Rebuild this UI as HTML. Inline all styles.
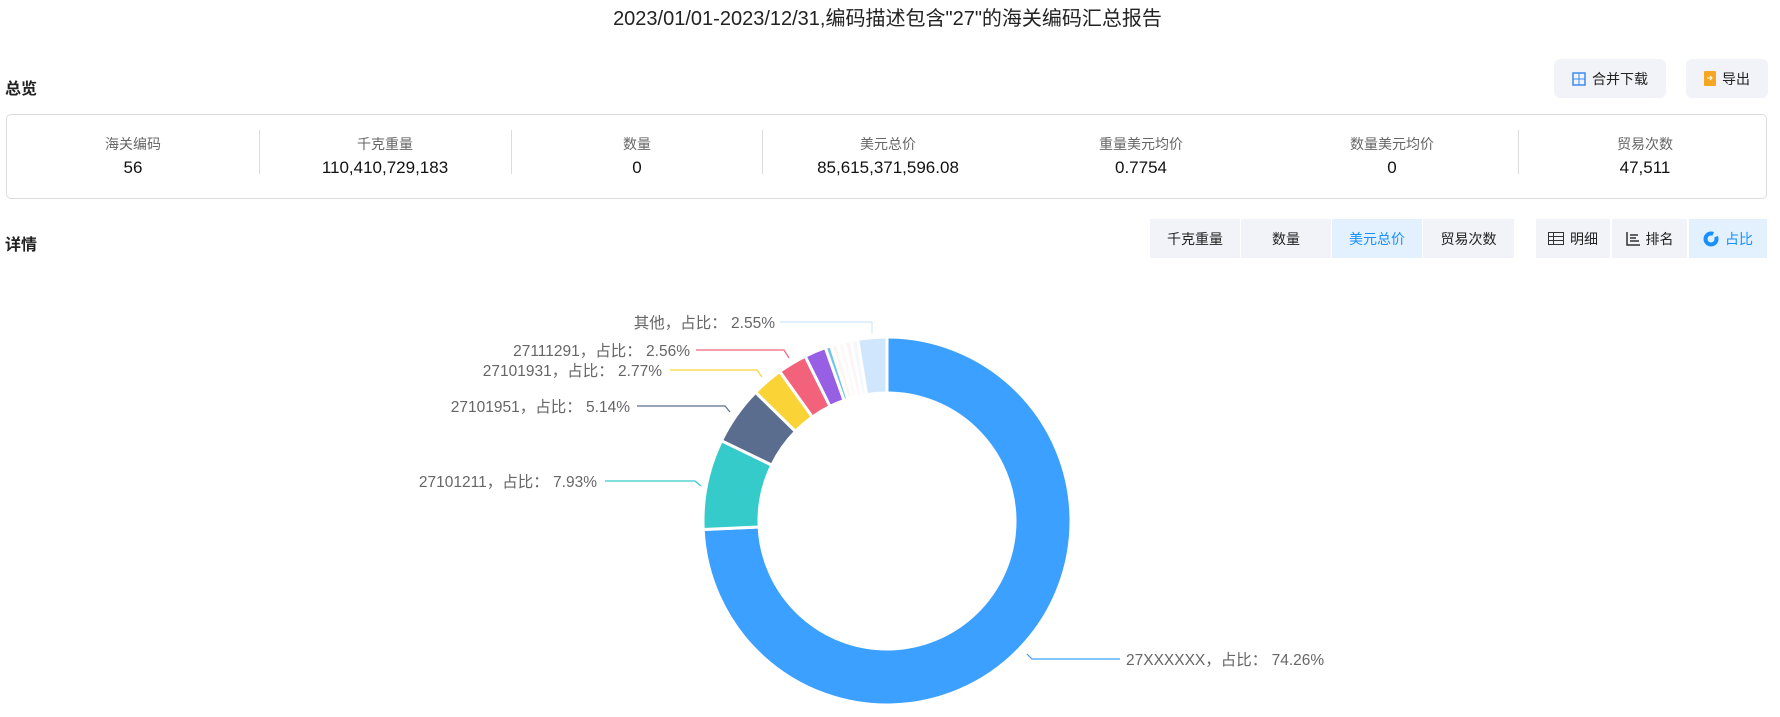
<!DOCTYPE html>
<html><head><meta charset="utf-8"><style>
body{margin:0;width:1780px;height:717px;background:#fff;font-family:"Liberation Sans","Noto Sans CJK SC",sans-serif;position:relative;overflow:hidden}
.a{position:absolute;white-space:nowrap}
.title{left:0;width:1775px;text-align:center;top:2px;font-size:20px;color:#222}
.h{font-size:16px;font-weight:bold;color:#222}
.btn{position:absolute;background:#f2f3f8;border-radius:6px;font-size:14px;color:#222;display:flex;align-items:center;justify-content:center;gap:6px}
.card{position:absolute;left:6px;top:114px;width:1759px;height:83px;border:1px solid #dcdcdc;border-radius:5px}
.col{position:absolute;top:0;width:250px;margin-left:-125px;text-align:center}
.col .l{position:absolute;top:19px;width:100%;font-size:14px;color:#666}
.col .v{position:absolute;top:43px;width:100%;font-size:17px;color:#111}
.sep{position:absolute;top:15px;width:1px;height:44px;background:#ddd}
.tab{position:absolute;top:219px;height:39px;background:#f2f3f8;font-size:14px;color:#222;display:flex;align-items:center;justify-content:center;gap:6px}
.lb{font-size:15.5px;color:#666}
</style></head><body>
<div class="a title">2023/01/01-2023/12/31,编码描述包含"27"的海关编码汇总报告</div>
<div class="a h" style="left:5px;top:75px">总览</div>
<div class="btn" style="left:1554px;top:59px;width:112px;height:39px"><svg width="14" height="14"><rect x="1" y="1" width="12" height="12" fill="none" stroke="#3b8cf0" stroke-width="1.5"/><line x1="7" y1="1" x2="7" y2="13" stroke="#3b8cf0"/><line x1="1" y1="7" x2="13" y2="7" stroke="#3b8cf0"/></svg>合并下载</div>
<div class="btn" style="left:1686px;top:59px;width:82px;height:39px"><svg width="12" height="15"><rect x="0" y="0" width="12" height="15" rx="1" fill="#f5a623"/><path d="M3 7h5M6 5l2 2-2 2" stroke="#fff" fill="none"/></svg>导出</div>
<div class="card">
<div class="col" style="left:126px"><div class="l">海关编码</div><div class="v">56</div></div>
<div class="col" style="left:378px"><div class="l">千克重量</div><div class="v">110,410,729,183</div></div>
<div class="col" style="left:630px"><div class="l">数量</div><div class="v">0</div></div>
<div class="col" style="left:881px"><div class="l">美元总价</div><div class="v">85,615,371,596.08</div></div>
<div class="col" style="left:1134px"><div class="l">重量美元均价</div><div class="v">0.7754</div></div>
<div class="col" style="left:1385px"><div class="l">数量美元均价</div><div class="v">0</div></div>
<div class="col" style="left:1638px"><div class="l">贸易次数</div><div class="v">47,511</div></div>
<div class="sep" style="left:252px"></div><div class="sep" style="left:504px"></div><div class="sep" style="left:755px"></div><div class="sep" style="left:1511px"></div>
</div>
<div class="a h" style="left:5px;top:231px">详情</div>
<div class="tab" style="left:1150px;width:90px">千克重量</div>
<div class="tab" style="left:1241px;width:90px">数量</div>
<div class="tab" style="left:1332px;width:90px;background:#e3f0fd;color:#1890ff">美元总价</div>
<div class="tab" style="left:1423px;width:91px">贸易次数</div>
<div class="tab" style="left:1536px;width:74px"><svg width="16" height="13"><rect x="0.5" y="0.5" width="15" height="12" fill="none" stroke="#333"/><path d="M0 4.5h16M0 8.5h16M5.5 0v13" stroke="#333"/></svg>明细</div>
<div class="tab" style="left:1612px;width:75px"><svg width="14" height="14"><path d="M1 0v13h13M4 3h8M4 6h6M4 9h9" stroke="#333" fill="none" stroke-width="1.5"/></svg>排名</div>
<div class="tab" style="left:1689px;width:78px;background:#e3f0fd;color:#1890ff"><svg width="16" height="16"><circle cx="8" cy="8" r="5.5" fill="none" stroke="#1890ff" stroke-width="4" stroke-dasharray="28 4"/></svg>占比</div>
<svg id="pie" class="a" style="left:0;top:0" width="1780" height="717"></svg>
<div class="a lb" style="right:1005px;top:311px">其他，占比： 2.55%</div>
<div class="a lb" style="right:1090px;top:339px">27111291，占比： 2.56%</div>
<div class="a lb" style="right:1118px;top:359px">27101931，占比： 2.77%</div>
<div class="a lb" style="right:1150px;top:395px">27101951，占比： 5.14%</div>
<div class="a lb" style="right:1183px;top:470px">27101211，占比： 7.93%</div>
<div class="a lb" style="left:1126px;top:648px">27XXXXXX，占比： 74.26%</div>
<script>
var cx=887,cy=521,R=184,r=128;
var d=[[74.26,'#3ba0ff'],[7.93,'#36cbcb'],[5.14,'#5b6d8f'],[2.77,'#fad337'],[2.56,'#f2637b'],[1.9,'#975fe4'],[0.5,'#6fc5e8'],[0.6,'#fdf6f0'],[0.6,'#fafafa'],[0.6,'#fdf4f5'],[0.59,'#f4f8fc'],[2.55,'#d0e6fc']];
var s='',a=0;
function p(ang,rad){var t=ang*Math.PI*2/100;return (cx+rad*Math.sin(t)).toFixed(2)+' '+(cy-rad*Math.cos(t)).toFixed(2)}
d.forEach(function(x){var b=a+x[0],l=x[0]>50?1:0;
s+='<path d="M'+p(a,R)+' A'+R+' '+R+' 0 '+l+' 1 '+p(b,R)+' L'+p(b,r)+' A'+r+' '+r+' 0 '+l+' 0 '+p(a,r)+'Z" fill="'+x[1]+'" stroke="#fff" stroke-width="3"/>';a=b;});
var L=[['780,322 872,322 872,333','#d0e6fc'],['696,350 784,350 789,358','#f2637b'],['670,370 757,370 762,377','#fad337'],['637,406 725,406 730,412','#5b6d8f'],['605,481 695,481 701,486','#36cbcb'],['1027,654 1032,659 1120,659','#3ba0ff']];
L.forEach(function(x){s+='<polyline points="'+x[0]+'" fill="none" stroke="'+x[1]+'" stroke-width="1.2"/>'});
document.getElementById('pie').innerHTML=s;
</script>
</body></html>
